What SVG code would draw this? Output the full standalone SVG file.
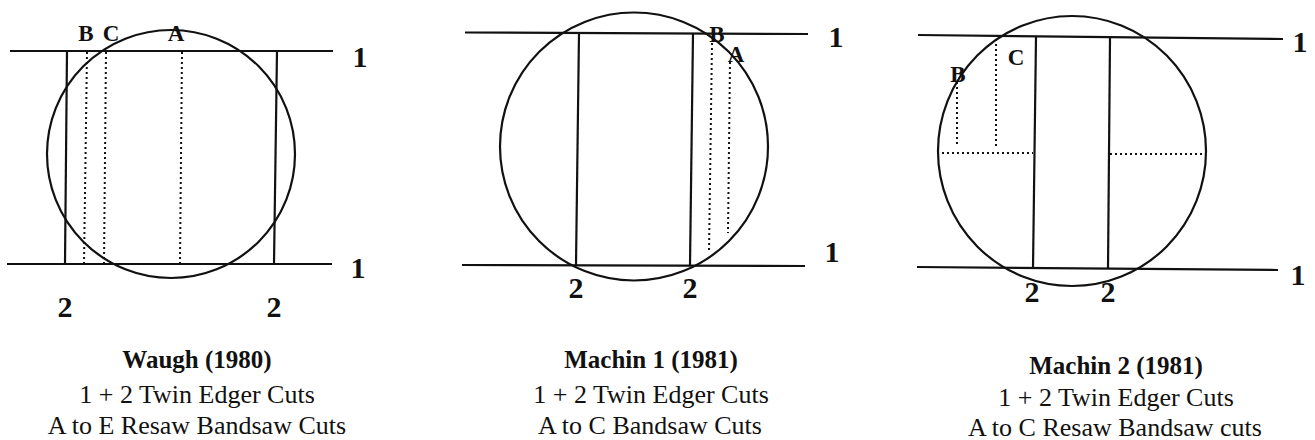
<svg xmlns="http://www.w3.org/2000/svg" width="1315" height="440" viewBox="0 0 1315 440">
<style>
.s{stroke:#111;stroke-width:2.2;fill:none}
.d{stroke:#111;stroke-width:2;fill:none;stroke-dasharray:2 3}
.lb{font-family:"Liberation Serif","Times New Roman",serif;font-weight:bold;font-size:23px;fill:#111;text-anchor:middle}
.nb{font-family:"Liberation Serif","Times New Roman",serif;font-weight:bold;font-size:30px;fill:#111;text-anchor:middle}
.ct{font-family:"Liberation Serif","Times New Roman",serif;font-weight:bold;font-size:25px;fill:#111;text-anchor:middle}
.cr{font-family:"Liberation Serif","Times New Roman",serif;font-size:26px;fill:#111;text-anchor:middle}
</style>
<rect width="1315" height="440" fill="#fff"/>
<g id="waugh">
<line class="s" x1="10" y1="51" x2="333" y2="51"/>
<line class="s" x1="7" y1="264" x2="332" y2="264"/>
<circle class="s" cx="171" cy="154" r="124"/>
<line class="s" x1="67" y1="51" x2="65" y2="264"/>
<line class="s" x1="277" y1="51" x2="274" y2="264"/>
<line class="d" x1="87" y1="52" x2="84" y2="263"/>
<line class="d" x1="106" y1="52" x2="104" y2="263"/>
<line class="d" x1="182" y1="52" x2="180" y2="263"/>
<text class="lb" x="86" y="41">B</text>
<text class="lb" x="111" y="41">C</text>
<text class="lb" x="176" y="41">A</text>
<text class="nb" x="360" y="67">1</text>
<text class="nb" x="358" y="278">1</text>
<text class="nb" x="65" y="317">2</text>
<text class="nb" x="274" y="317">2</text>
<text class="ct" x="197" y="368">Waugh (1980)</text>
<text class="cr" x="197" y="403">1 + 2 Twin Edger Cuts</text>
<text class="cr" x="197" y="434">A to E Resaw Bandsaw Cuts</text>
</g>
<g id="machin1">
<line class="s" x1="465" y1="32.5" x2="808" y2="34"/>
<line class="s" x1="462" y1="265" x2="805" y2="266"/>
<circle class="s" cx="634" cy="146.5" r="134"/>
<line class="s" x1="579" y1="33" x2="576" y2="265"/>
<line class="s" x1="693" y1="33.5" x2="690" y2="265.5"/>
<line class="d" x1="712" y1="43" x2="709" y2="252"/>
<line class="d" x1="730" y1="62" x2="728" y2="233"/>
<text class="lb" x="717" y="42">B</text>
<text class="lb" x="736" y="62">A</text>
<text class="nb" x="836" y="47">1</text>
<text class="nb" x="832" y="262">1</text>
<text class="nb" x="576" y="298">2</text>
<text class="nb" x="690" y="298">2</text>
<text class="ct" x="651" y="368">Machin 1 (1981)</text>
<text class="cr" x="651" y="403">1 + 2 Twin Edger Cuts</text>
<text class="cr" x="650" y="434">A to C Bandsaw Cuts</text>
</g>
<g id="machin2">
<line class="s" x1="918" y1="35" x2="1283" y2="39"/>
<line class="s" x1="917" y1="267" x2="1278" y2="270"/>
<ellipse class="s" cx="1072" cy="151" rx="134" ry="135"/>
<line class="s" x1="1036" y1="37" x2="1033" y2="268"/>
<line class="s" x1="1110" y1="38" x2="1108" y2="269"/>
<line class="d" x1="996" y1="39" x2="996" y2="148"/>
<line class="d" x1="957" y1="82" x2="957" y2="147"/>
<line class="d" x1="942" y1="153" x2="1033" y2="153"/>
<line class="d" x1="1110" y1="154" x2="1205" y2="154"/>
<text class="lb" x="1016" y="65">C</text>
<text class="lb" x="958" y="82">B</text>
<text class="nb" x="1300" y="52">1</text>
<text class="nb" x="1298" y="285">1</text>
<text class="nb" x="1032" y="302">2</text>
<text class="nb" x="1108" y="302">2</text>
<text class="ct" x="1116" y="374">Machin 2 (1981)</text>
<text class="cr" x="1116" y="406">1 + 2 Twin Edger Cuts</text>
<text class="cr" x="1115" y="436">A to C Resaw Bandsaw cuts</text>
</g>
</svg>
